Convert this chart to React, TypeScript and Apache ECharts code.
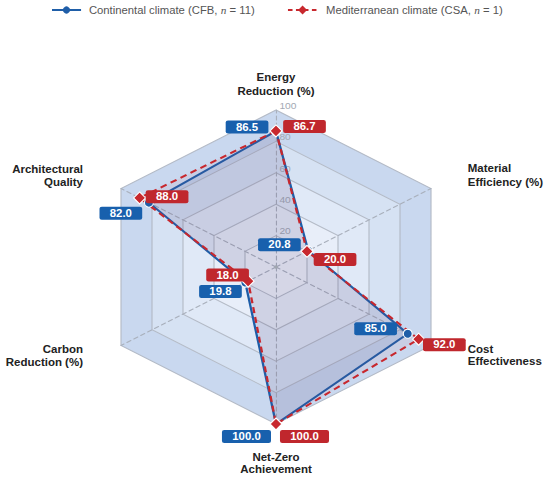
import React, { useEffect, useRef } from "react";
import * as echarts from "echarts";

// ---- data ----
const axisNames = [
  "Energy\nReduction (%)",
  "Material\nEfficiency (%)",
  "Cost\nEffectiveness",
  "Net-Zero\nAchievement",
  "Carbon\nReduction (%)",
  "Architectural\nQuality",
];
const continental = [86.5, 20.8, 85.0, 100.0, 19.8, 82.0];
const mediterranean = [86.7, 20.0, 92.0, 100.0, 18.0, 88.0];
const radialTicks = [0, 20, 40, 60, 80, 100];
const seriesNames = ["Continental climate (CFB, n = 11)", "Mediterranean climate (CSA, n = 1)"];

// ---- layout / style ----
const K = 1.14; // horizontal stretch of the reference picture
const W = 550 / K;
const CX = 276 / K;
const CY = 267;
const R = 157;
const BLUE = "#1f5ea8";
const RED = "#c8282e";
const FONT = "Liberation Sans, Arial, Helvetica, sans-serif";

const blueOffsets = [[-25.4, -4.3], [-25.3, -6], [-28.2, -5], [-25.9, 12.5], [-21.8, 9], [-24.6, 10.6]];
const redOffsets = [[25, -4.3], [24.6, 8.3], [22.6, 5.5], [25, 12.5], [-18, -6.2], [24.1, -1.2]];

const namePos = [
  { x: CX, y: 84, align: "center", lh: 13.5 },
  { x: 410.3, y: 175.3, align: "left", lh: 14 },
  { x: 410.3, y: 355, align: "left", lh: 12 },
  { x: CX, y: 463, align: "center", lh: 12 },
  { x: 72.8, y: 355.7, align: "right", lh: 13.3 },
  { x: 72.8, y: 175.2, align: "right", lh: 13 },
];

export default function App() {
  const ref = useRef<HTMLDivElement>(null);
  useEffect(() => {
    if (!ref.current) return;
    const chart = echarts.init(ref.current, undefined, { renderer: "svg" });
    const n = axisNames.length;
    const ccw = axisNames.map((_, i) => (i === 0 ? 0 : n - i));
    const maxV = radialTicks[radialTicks.length - 1];
    const angles = axisNames.map((_, i) => (i * 360) / n);

    const labelSeries = (vals: number[], offs: number[][], color: string, name: string) => ({
      type: "scatter",
      name,
      coordinateSystem: "polar",
      z: 20,
      silent: true,
      symbolSize: 1,
      itemStyle: { color: "transparent", opacity: 1 },
      data: vals.map((v, i) => ({
        value: [v, angles[i]],
        label: { offset: offs[i] },
      })),
      label: {
        show: true,
        position: "inside",
        formatter: (p: any) => Number(p.value[0]).toFixed(1),
        color: "#fff",
        fontWeight: "bold",
        fontSize: 10,
        fontFamily: FONT,
        lineHeight: 11,
        padding: [1, 9],
        backgroundColor: color,
        borderRadius: 2,
        opacity: 1,
      },
    });

    const nameTexts = axisNames.map((t, i) => ({
      type: "text",
      x: namePos[i].x,
      y: namePos[i].y,
      scaleX: 1 / K,
      z: 30,
      style: {
        text: t,
        align: namePos[i].align,
        verticalAlign: "middle",
        fontSize: 11.5,
        fontWeight: "bold",
        fontFamily: FONT,
        lineHeight: namePos[i].lh,
        fill: "#222",
      },
    }));

    const legendY = 10;
    const legendFont = 11.3;
    const legend = [
      { type: "line", z: 30, shape: { x1: 45.6, y1: legendY, x2: 71.1, y2: legendY }, style: { stroke: BLUE, lineWidth: 2 } },
      { type: "circle", z: 31, x: 58.3, y: legendY, scaleX: 1 / K, shape: { cx: 0, cy: 0, r: 3.6 }, style: { fill: BLUE } },
      {
        type: "text", z: 30, x: 78, y: legendY, scaleX: 1 / K,
        style: {
          text: "Continental climate (CFB, {i|n} = 11)",
          align: "left", verticalAlign: "middle", fontSize: legendFont, fontFamily: FONT, fill: "#555",
          rich: { i: { fontStyle: "italic", fontSize: legendFont, fontFamily: "Liberation Serif, serif", fill: "#555" } },
        },
      },
      { type: "line", z: 30, shape: { x1: 252.6, y1: legendY, x2: 278.1, y2: legendY }, style: { stroke: RED, lineWidth: 2, lineDash: [4, 3] } },
      {
        type: "polygon", z: 31, x: 265.4, y: legendY, scaleX: 1 / K,
        shape: { points: [[0, -4.5], [4.5, 0], [0, 4.5], [-4.5, 0]] }, style: { fill: RED },
      },
      {
        type: "text", z: 30, x: 286, y: legendY, scaleX: 1 / K,
        style: {
          text: "Mediterranean climate (CSA, {i|n} = 1)",
          align: "left", verticalAlign: "middle", fontSize: legendFont, fontFamily: FONT, fill: "#555",
          rich: { i: { fontStyle: "italic", fontSize: legendFont, fontFamily: "Liberation Serif, serif", fill: "#555" } },
        },
      },
    ];

    chart.setOption({
      animation: false,
      textStyle: { fontFamily: FONT },
      radar: {
        center: [CX, CY],
        radius: R,
        startAngle: 90,
        shape: "polygon",
        splitNumber: radialTicks.length - 1,
        indicator: ccw.map((idx, k) => ({
          name: axisNames[idx],
          min: 0,
          max: maxV,
          ...(k === 0
            ? {
                axisLabel: {
                  show: true,
                  color: "#a3a9b3",
                  fontSize: 9,
                  showMinLabel: false,
                  margin: -3,
                  align: "left",
                  verticalAlign: "bottom",
                },
              }
            : {}),
        })),
        axisName: { show: false },
        axisLabel: { show: false },
        axisTick: { show: false },
        splitLine: { lineStyle: { color: "#b3bac6", width: 1 } },
        splitArea: {
          show: true,
          areaStyle: { color: ["#eef3fb", "#e8eef9", "#e0e9f7", "#d6e2f3", "#c9d8ef"] },
        },
        axisLine: { lineStyle: { color: "#a9b0bc", width: 1, type: [4, 3] } },
      },
      polar: { center: [CX, CY], radius: R },
      angleAxis: { type: "value", min: 0, max: 360, startAngle: 90, clockwise: true, show: false },
      radiusAxis: { type: "value", min: 0, max: maxV, show: false },
      series: [
        {
          type: "radar",
          z: 5,
          silent: true,
          data: [
            {
              name: seriesNames[0],
              value: ccw.map((i) => continental[i]),
              symbol: "circle",
              symbolSize: [9 / K, 9],
              lineStyle: { color: BLUE, width: 2 },
              itemStyle: { color: BLUE, borderColor: "#fff", borderWidth: 1 },
              areaStyle: { color: "rgba(31,94,168,0.17)" },
            },
            {
              name: seriesNames[1],
              value: ccw.map((i) => mediterranean[i]),
              symbol: "diamond",
              symbolSize: [12 / K, 12],
              lineStyle: { color: RED, width: 2, type: [6, 4] },
              itemStyle: { color: RED, borderColor: "#fff", borderWidth: 1 },
              areaStyle: { color: "rgba(200,40,46,0.08)" },
            },
          ],
        },
        labelSeries(continental, blueOffsets, "#1860ad", seriesNames[0]),
        labelSeries(mediterranean, redOffsets, "#c0272d", seriesNames[1]),
      ],
      graphic: [
        { type: "circle", z: 6, x: CX, y: CY, scaleX: 1 / K, shape: { cx: 0, cy: 0, r: 1.8 }, style: { fill: "#a0a6b0" } },
        ...nameTexts,
        ...legend,
      ],
    });
    return () => chart.dispose();
  }, []);

  return (
    <div
      style={{
        position: "fixed",
        left: 0,
        top: 0,
        width: 550,
        height: 479,
        overflow: "hidden",
        background: "#fff",
      }}
    >
      <div
        ref={ref}
        style={{
          width: W,
          height: 479,
          transform: `scaleX(${K})`,
          transformOrigin: "0 0",
        }}
      />
    </div>
  );
}
